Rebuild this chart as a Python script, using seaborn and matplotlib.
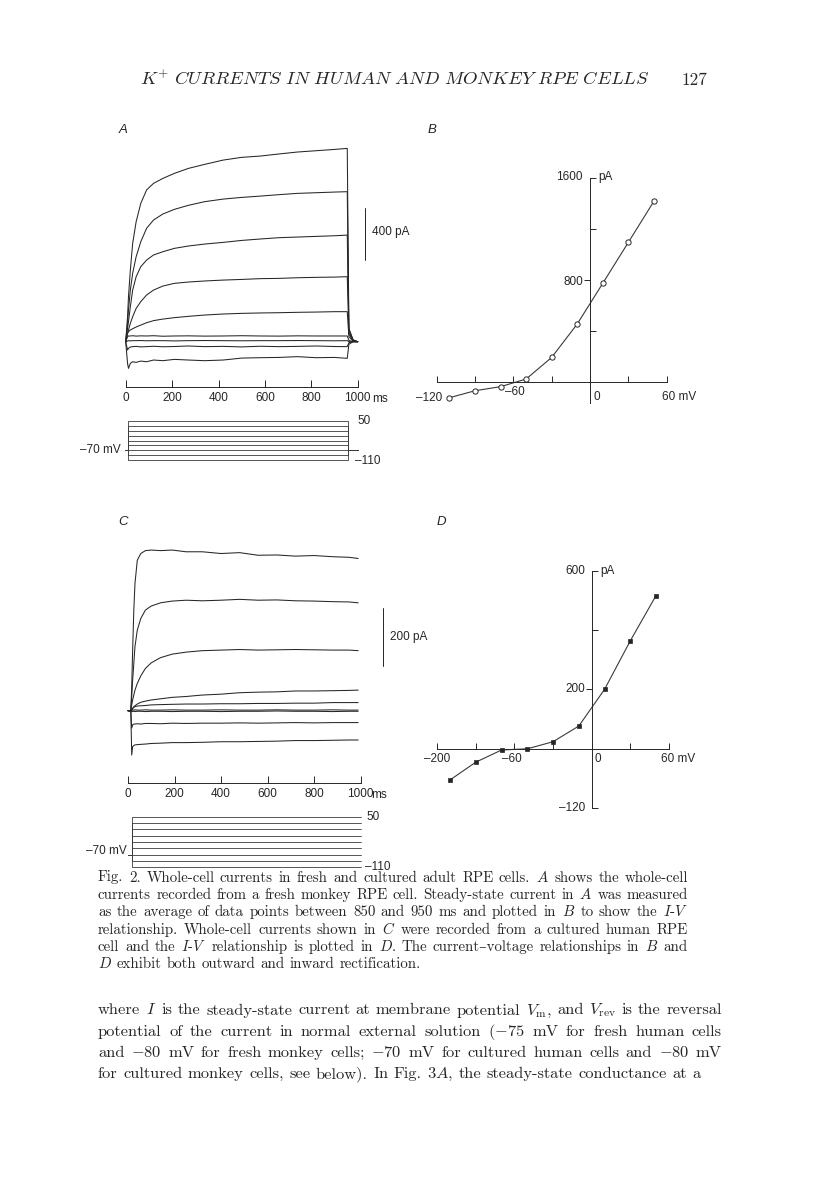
import matplotlib
matplotlib.use("Agg")
import matplotlib.pyplot as plt
import pandas as pd
import seaborn as sns

W, H = 816, 1204
INK = "#262626"
SERIF = ["cmr10", "DejaVu Serif"]

# ---- data ----
steps = [50, 30, 10, -10, -30, -50, -70, -90, -110]   # mV, test pulses
hold_mv = -70

# A: fresh monkey RPE cell, current (pA) relative to holding current
t_a = [0, 8, 12, 20, 30, 45, 65, 90, 120, 160, 210, 270, 340, 420, 500,
       580, 660, 740, 820, 900, 955, 962, 980, 1000]
a_p50 = [0, 192, 346, 551, 756, 923, 1064, 1167, 1218, 1256, 1295, 1333, 1364, 1397, 1418,
         1428, 1444, 1459, 1469, 1479, 1487, 103, 15, 0]
a_p30 = [0, 141, 244, 397, 526, 654, 769, 872, 936, 982, 1018, 1049, 1077, 1097, 1110,
         1120, 1131, 1141, 1146, 1151, 1154, 90, 12, 0]
a_p10 = [0, 103, 154, 269, 397, 500, 577, 628, 667, 692, 718, 736, 751, 764, 779,
         790, 800, 805, 810, 815, 820, 77, 10, 0]
a_m10 = [0, 64, 90, 141, 192, 256, 308, 359, 397, 428, 449, 459, 467, 474, 479,
         485, 487, 492, 495, 497, 500, 59, 8, 0]
a_m30 = [0, 64, 77, 90, 100, 113, 128, 146, 162, 174, 185, 195, 205, 213, 218,
         221, 223, 226, 228, 231, 231, 38, 5, 0]
a_m50 = [0, 38, 44, 44, 46, 43, 45, 44, 46, 42, 44, 45, 43, 44, 46,
         44, 43, 45, 44, 44, 44, 10, 0, 0]
a_m70 = [0, 5, 8, 6, 8, 8, 9, 7, 8, 8, 6, 8, 9, 8, 7,
         8, 8, 9, 8, 7, 8, 0, 0, 0]
a_m90 = [0, -64, -51, -41, -38, -36, -40, -38, -35, -39, -37, -33, -38, -36, -40,
         -35, -38, -36, -33, -37, -38, -8, 0, 0]
a_m110 = [0, -167, -205, -167, -154, -159, -149, -154, -141, -146, -136, -141, -146, -141, -126,
          -123, -121, -115, -123, -121, -128, -20, 0, 0]
a_on, a_off, sweep_end = 9, 960, 1000

# C: cultured human RPE cell
t_c = [0, 12, 16, 20, 25, 30, 40, 55, 75, 100, 140, 190, 250, 320, 400,
       480, 560, 640, 720, 800, 880, 950, 990]
c_p50 = [0, 0, 83, 209, 347, 439, 519, 542, 552, 554, 552, 554, 548, 548, 542,
         545, 536, 537, 533, 535, 531, 529, 525]
c_p30 = [0, 0, 48, 106, 163, 221, 278, 318, 347, 361, 372, 378, 381, 379, 381,
         384, 381, 382, 379, 378, 376, 375, 372]
c_p10 = [0, 0, 20, 37, 54, 71, 94, 120, 146, 165, 183, 195, 202, 207, 209,
         211, 209, 210, 211, 210, 209, 209, 207]
c_m10 = [0, 0, 2, 8, 14, 17, 23, 29, 33, 37, 41, 46, 49, 54, 57,
         62, 64, 65, 68, 68, 69, 70, 71]
c_m30 = [0, 0, 2, 8, 11, 14, 16, 17, 18, 20, 21, 22, 23, 23, 24,
         24, 25, 25, 26, 26, 28, 28, 28]
c_m50 = [0, 0, 3, 2, 2, 3, 2, 2, 3, 2, 2, 3, 2, 2, 3,
         2, 2, 3, 2, 2, 3, 2, 2]
c_m70 = [0, 0, -4, -2, -2, -3, -2, -2, -3, -2, -2, -3, -2, -2, -3,
         -2, -2, -1, -2, -2, -3, -2, -2]
c_m90 = [0, 0, -60, -49, -46, -46, -45, -46, -44, -44, -45, -43, -44, -43, -43,
         -42, -43, -42, -41, -42, -41, -41, -41]
c_m110 = [0, 0, -153, -124, -120, -118, -117, -116, -115, -113, -112, -110, -110, -109, -107,
          -107, -106, -105, -103, -103, -102, -101, -101]
c_on = 16

# B and D: steady-state I-V
v_iv = [-110, -90, -70, -50, -30, -10, 10, 30, 50]
i_b = [-126, -71, -39, 21, 191, 454, 774, 1096, 1419]
i_d = [-106, -46, -5, -1, 23, 76, 200, 364, 517]

caption_lines = [
    "Fig. 2. Whole-cell currents in fresh and cultured adult RPE cells. $A$ shows the whole-cell",
    "currents recorded from a fresh monkey RPE cell. Steady-state current in $A$ was measured",
    "as the average of data points between 850 and 950 ms and plotted in $B$ to show the $I$-$V$",
    "relationship. Whole-cell currents shown in $C$ were recorded from a cultured human RPE",
    "cell and the $I$-$V$ relationship is plotted in $D$. The current\u2013voltage relationships in $B$ and",
    "$D$ exhibit both outward and inward rectification.",
]
body_lines = [
    r"where $I$ is the steady-state current at membrane potential $V_\mathrm{m}$, and $V_\mathrm{rev}$ is the reversal",
    "potential of the current in normal external solution ($-$75 mV for fresh human cells",
    "and $-$80 mV for fresh monkey cells; $-$70 mV for cultured human cells and $-$80 mV",
    "for cultured monkey cells, see below). In Fig. 3$A$, the steady-state conductance at a",
]

sns.set_theme(style="white")
plt.rcParams["font.family"] = ["Liberation Sans", "DejaVu Sans"]
plt.rcParams["mathtext.fontset"] = "cm"
plt.rcParams["text.color"] = INK

fig = plt.figure(figsize=(W / 100, H / 100), dpi=100)
fig.patch.set_facecolor("white")


def ftext(x, y, s, **kw):
    return fig.text(x / W, 1 - y / H, s, **kw)


def calibrate(ax, box, xmap, ymap):
    # place axes at a pixel box and set limits from two reference points per axis
    l, r, t, b = box
    ax.set_position([l / W, 1 - b / H, (r - l) / W, (b - t) / H])
    (d0, p0), (d1, p1) = xmap
    s = (d1 - d0) / (p1 - p0)
    ax.set_xlim(d0 + (l - p0) * s, d0 + (r - p0) * s)
    (d0, p0), (d1, p1) = ymap
    s = (d1 - d0) / (p1 - p0)
    ax.set_ylim(d0 + (b - p0) * s, d0 + (t - p0) * s)
    ax.set_xlabel("")
    ax.set_ylabel("")
    ax.patch.set_alpha(0)


def traces(t, rows):
    return pd.concat([pd.DataFrame({"t": t, "i": r, "step": v}) for v, r in zip(steps, rows)])


def protocol(on, off):
    frames = []
    for v in steps:
        if off is None:
            x, y = [0, on, on, sweep_end], [hold_mv, hold_mv, v, v]
        else:
            x = [-3, on, on, off, off, sweep_end]
            y = [hold_mv, hold_mv, v, v, hold_mv, hold_mv]
        frames.append(pd.DataFrame({"t": x, "v": y, "step": v}))
    return pd.concat(frames)


def time_axis(ax, ms_dx):
    for s in ("top", "right", "left"):
        ax.spines[s].set_visible(False)
    ax.spines["bottom"].set_bounds(0, 1000)
    ax.spines["bottom"].set_color(INK)
    ax.spines["bottom"].set_linewidth(0.7)
    ax.set_xticks(range(0, 1001, 200))
    ax.set_yticks([])
    ax.tick_params(axis="x", bottom=True, direction="in", length=5, width=0.7,
                   colors=INK, labelsize=8.5, pad=4)
    ax.annotate("ms", xy=(1000, 0), xycoords=("data", "axes fraction"),
                xytext=(ms_dx, -12), textcoords="offset pixels",
                ha="left", va="center", fontsize=8.5)


def lab(ax, s, xy, dx, dy, ha="center"):
    ax.annotate(s, xy=xy, xytext=(dx, dy), textcoords="offset pixels",
                ha=ha, va="center", fontsize=8.5)


def iv_axes(ax, ybounds, major, minor):
    for s in ("top", "right"):
        ax.spines[s].set_visible(False)
    for s in ("left", "bottom"):
        ax.spines[s].set_position(("data", 0))
        ax.spines[s].set_color(INK)
        ax.spines[s].set_linewidth(0.7)
    ax.spines["left"].set_bounds(*ybounds)
    ax.spines["bottom"].set_bounds(-120, 60)
    ax.set_xticks(range(-120, 61, 30))
    ax.set_yticks(major)
    ax.set_yticks(minor, minor=True)
    ax.tick_params(axis="x", bottom=True, direction="in", length=4, width=0.7,
                   colors=INK, labelbottom=False)
    ax.tick_params(axis="y", which="major", left=True, direction="out", length=4,
                   width=0.7, colors=INK, labelleft=False)
    ax.tick_params(axis="y", which="minor", left=True, direction="in", length=4,
                   width=0.7, colors=INK, labelleft=False)


line_kw = dict(units="step", estimator=None, sort=False, color=INK, lw=0.75, legend=False)

# ---- A: current traces ----
xmap_a = ((0, 125.7), (1000, 357.7))
axA = fig.add_axes([0, 0, 1, 1])
sns.lineplot(data=traces(t_a, [a_p50, a_p30, a_p10, a_m10, a_m30, a_m50, a_m70, a_m90, a_m110]),
             x="t", y="i", ax=axA, **line_kw)
calibrate(axA, (100, 380, 135, 386.5), xmap_a, ((0, 341.7), (400, 289.7)))
time_axis(axA, 14)
axA.plot([1031, 1031], [628, 1028], color=INK, lw=0.7, clip_on=False)
axA.text(1062, 843, "400 pA", ha="left", va="center", fontsize=8.5)

axPA = fig.add_axes([0, 0, 1, 1])
sns.lineplot(data=protocol(a_on, a_off), x="t", y="v", ax=axPA,
             units="step", estimator=None, sort=False, color="#3a3a3a", lw=0.6, legend=False)
calibrate(axPA, (100, 380, 414, 468), xmap_a, ((50, 421), (-110, 460)))
axPA.set_axis_off()
ftext(357, 421, "50", ha="left", va="center", fontsize=8.5)
ftext(355, 461.5, "\u2013110", ha="left", va="center", fontsize=8.5)
ftext(121, 450, "\u201370 mV", ha="right", va="center", fontsize=8.5)

# ---- C: current traces ----
xmap_c = ((0, 128), (1000, 360.5))
axC = fig.add_axes([0, 0, 1, 1])
sns.lineplot(data=traces(t_c, [c_p50, c_p30, c_p10, c_m10, c_m30, c_m50, c_m70, c_m90, c_m110]),
             x="t", y="i", ax=axC, **line_kw)
calibrate(axC, (100, 400, 540, 782.7), xmap_c, ((0, 710.7), (200, 652.7)))
time_axis(axC, 11)
axC.plot([1095, 1095], [155, 355], color=INK, lw=0.7, clip_on=False)
axC.text(1127, 254, "200 pA", ha="left", va="center", fontsize=8.5)

axPC = fig.add_axes([0, 0, 1, 1])
sns.lineplot(data=protocol(c_on, None), x="t", y="v", ax=axPC,
             units="step", estimator=None, sort=False, color="#3a3a3a", lw=0.6, legend=False)
calibrate(axPC, (100, 400, 810, 874), xmap_c, ((50, 816.7), (-110, 867.3)))
axPC.set_axis_off()
ftext(366.7, 816.7, "50", ha="left", va="center", fontsize=8.5)
ftext(365, 867, "\u2013110", ha="left", va="center", fontsize=8.5)
ftext(126.7, 851.3, "\u201370 mV", ha="right", va="center", fontsize=8.5)

# ---- B: I-V, fresh monkey ----
axB = fig.add_axes([0, 0, 1, 1])
sns.lineplot(x=v_iv, y=i_b, ax=axB, color="#3a3a3a", lw=0.8, marker="o", markersize=3.8,
             markerfacecolor="white", markeredgecolor=INK, markeredgewidth=0.7)
calibrate(axB, (420, 690, 165, 410), ((-120, 436.7), (0, 590)), ((0, 381.7), (1600, 178.3)))
iv_axes(axB, (-170, 1600), [800], [400, 1200, 1600])
lab(axB, "\u2013120", (-120, 0), 6, -16, ha="right")
lab(axB, "\u201360", (-60, 0), 2, -10)
lab(axB, "0", (0, 0), 7, -15.5)
lab(axB, "60 mV", (60, 0), -5, -15.5, ha="left")
lab(axB, "1600", (0, 1600), -7, 1.6, ha="right")
lab(axB, "pA", (0, 1600), 8, 1.6, ha="left")
lab(axB, "800", (0, 800), -7, -1.7, ha="right")

# ---- D: I-V, cultured human ----
axD = fig.add_axes([0, 0, 1, 1])
sns.lineplot(x=v_iv, y=i_d, ax=axD, color="#3a3a3a", lw=0.8, marker="s", markersize=3.0,
             markerfacecolor=INK, markeredgecolor=INK, markeredgewidth=0.5)
calibrate(axD, (420, 690, 560, 815), ((-120, 437.3), (0, 591.7)), ((0, 748.5), (600, 571)))
iv_axes(axD, (-200, 600), [200], [-200, 400, 600])
lab(axD, "\u2013200", (-120, 0), -0.6, -11)
lab(axD, "\u201360", (-60, 0), -2.6, -11)
lab(axD, "0", (0, 0), 6.6, -11)
lab(axD, "60 mV", (60, 0), -7.6, -10, ha="left")
lab(axD, "600", (0, 600), -6.7, 0, ha="right")
lab(axD, "pA", (0, 600), 8.3, 0, ha="left")
lab(axD, "200", (0, 200), -6.7, 0, ha="right")
lab(axD, "\u2013120", (0, -200), -6.7, 0, ha="right")

# panel letters
for s, x, y in [("A", 123, 130), ("B", 432, 130), ("C", 123, 522), ("D", 441, 522)]:
    ftext(x, y, s, ha="center", va="center", fontsize=9.5, style="italic")

# ---- running head ----
r = fig.canvas.get_renderer()
hdr = ftext(140, 85, r"$K^{+}\ CURRENTS\ IN\ HUMAN\ AND\ MONKEY\ RPE\ CELLS$",
            ha="left", va="baseline", fontsize=12)
hdr.set_fontsize(12 * 510 / hdr.get_window_extent(r).width)
ftext(707, 85, "127", ha="right", va="baseline", fontsize=12.5, family=SERIF)


def word_widths(words, size):
    arts = [ftext(0, 0, w, fontsize=size, family=SERIF) for w in words]
    out = [a.get_window_extent(r).width for a in arts]
    for a in arts:
        a.remove()
    return out


def justify(lines, x0, x1, baselines, size_max):
    # pick the size at which the widest line fills the measure with normal spacing
    widest = 0
    for line in lines[:-1]:
        ws = word_widths(line.split(), 10)
        widest = max(widest, sum(ws) + (len(ws) - 1) * 10 * 100 / 72 * 0.333)
    size = min(size_max, 10 * (x1 - x0) / widest)
    space = size * 100 / 72 * 0.333
    for k, (line, yb) in enumerate(zip(lines, baselines)):
        words = line.split()
        widths = word_widths(words, size)
        if k == len(lines) - 1:
            gap = space
        else:
            gap = (x1 - x0 - sum(widths)) / (len(words) - 1)
        x = x0
        for w, wd in zip(words, widths):
            ftext(x, yb, w, ha="left", va="baseline", fontsize=size, family=SERIF)
            x += wd + gap


justify(caption_lines, 98, 688, [881.5, 898.9, 916.3, 933.7, 951.1, 968.5], 11.3)
justify(body_lines, 98, 722, [1014.5, 1035.7, 1056.9, 1078.1], 13.6)

fig.savefig("out.png", dpi=100, facecolor="white")
